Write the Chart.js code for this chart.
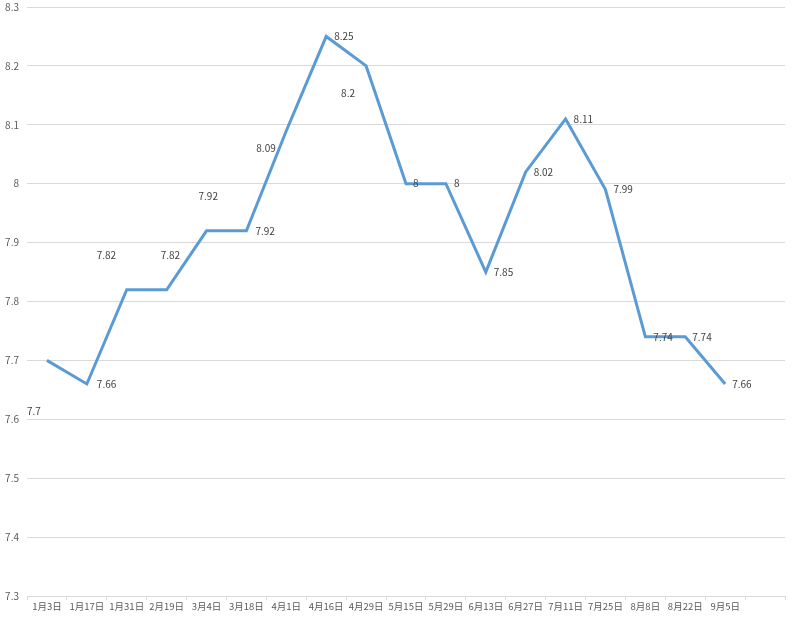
<!DOCTYPE html>
<html lang="zh">

<head>
  <meta charset="UTF-8">
  <script src="https://cdn.jsdelivr.net/npm/chart.js"></script>
  <title>折线图</title>
  <style>
    body { margin: 0; background: #fff; }
    #grafico { display: block; }
  </style>
</head>

<body>
  <canvas id="grafico" width="800" height="620"></canvas>
</body>

</html>
<script>
  // dados
  var categorias = ['1月3日', '1月17日', '1月31日', '2月19日', '3月4日', '3月18日', '4月1日', '4月16日', '4月29日',
    '5月15日', '5月29日', '6月13日', '6月27日', '7月11日', '7月25日', '8月8日', '8月22日', '9月5日', '']
  var valores = [7.7, 7.66, 7.82, 7.82, 7.92, 7.92, 8.09, 8.25, 8.2, 8, 8, 7.85, 8.02, 8.11, 7.99, 7.74, 7.74, 7.66, null]
  var eixoMin = 7.3
  var eixoMax = 8.3
  var passo = 0.1

  // deslocamento dos rotulos (estilo excel, cada um num lugar)
  var deslocRotulo = [
    [-20, 51], [10, 0], [-30, -35], [-6, -35], [-8, -35], [9, 0], [-30, 18], [8, 0], [-25, 27],
    [7, 0], [8, 0], [8, 0], [8, 0], [8, 0], [8, 0], [8, 0], [7, 0], [7, 0]
  ]

  var fonte = '"Noto Sans CJK SC", "Noto Sans", sans-serif'
  var corTexto = '#595959'

  var pluginRotulos = {
    id: 'rotulos',
    afterDatasetsDraw(chart) {
      const ctx = chart.ctx
      const meta = chart.getDatasetMeta(0)
      ctx.save()
      ctx.font = '10px ' + fonte
      ctx.fillStyle = '#404040'
      ctx.textAlign = 'left'
      ctx.textBaseline = 'middle'
      meta.data.forEach((ponto, i) => {
        if (valores[i] == null) return
        const d = deslocRotulo[i] || [8, 0]
        ctx.fillText(String(valores[i]), ponto.x + d[0], ponto.y + d[1])
      })
      ctx.restore()
    }
  }

  var config = {
    type: 'line',
    data: {
      labels: categorias,
      datasets: [{
        data: valores,
        borderColor: '#5B9BD5',
        borderWidth: 3,
        pointRadius: 0,
        tension: 0,
        spanGaps: false
      }]
    },
    options: {
      responsive: false,
      animation: false,
      layout: { padding: { top: 7, right: 15, left: 0, bottom: 0 } },
      plugins: {
        legend: { display: false },
        tooltip: { enabled: false }
      },
      scales: {
        x: {
          offset: true,
          grid: {
            offset: true,
            drawOnChartArea: false,
            drawTicks: true,
            tickLength: 4,
            color: '#d9d9d9'
          },
          border: { color: '#d9d9d9' },
          ticks: {
            autoSkip: false,
            maxRotation: 0,
            padding: 1,
            color: corTexto,
            font: { family: fonte, size: 9.5 }
          },
          afterFit(scale) { scale.height = 24 }
        },
        y: {
          min: eixoMin,
          max: eixoMax,
          grid: { color: '#d9d9d9', drawTicks: false },
          border: { display: false },
          ticks: {
            stepSize: passo,
            padding: 8,
            color: corTexto,
            font: { family: fonte, size: 10 },
            callback: (v) => String(Number(v.toFixed(1)))
          },
          afterFit(scale) {
            scale.width = 27
            scale.paddingTop = 0
            scale.paddingBottom = 0
          }
        }
      }
    },
    plugins: [pluginRotulos]
  }

  new Chart(document.getElementById('grafico'), config)
</script>
